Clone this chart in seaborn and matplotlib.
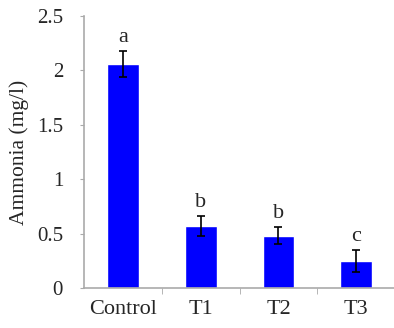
import matplotlib
matplotlib.use("Agg")
import matplotlib.pyplot as plt
import seaborn as sns
import pandas as pd

# --- Data ---
groups = ["Control", "T1", "T2", "T3"]
ammonia = [2.06, 0.57, 0.48, 0.25]
errors = [0.12, 0.09, 0.08, 0.10]
letters = ["a", "b", "b", "c"]

df = pd.DataFrame({"Group": groups, "Ammonia": ammonia})

sns.set_style("white")
plt.rcParams["font.family"] = ["Liberation Serif", "DejaVu Serif"]

fig = plt.figure(figsize=(3.94, 3.28), dpi=100)
ax = fig.add_axes([0.213, 0.122, 0.79, 0.829])

sns.barplot(data=df, x="Group", y="Ammonia", color="#0000ff", saturation=1,
            width=0.41, ax=ax)
ax.errorbar(range(len(groups)), ammonia, yerr=errors, fmt="none",
            ecolor="black", elinewidth=1.2, capsize=3, capthick=1.2)

for i, (v, e, t) in enumerate(zip(ammonia, errors, letters)):
    ax.text(i, v + e + 0.04, t, ha="center", va="bottom", fontsize=16)

ax.set_xlim(-0.5, 3.5)
ax.set_ylim(0, 2.5)
ax.set_yticks([0, 0.5, 1, 1.5, 2, 2.5])
ax.set_yticklabels(["0", "0.5", "1", "1.5", "2", "2.5"])
ax.set_xticks(range(len(groups)))
ax.set_xticklabels(groups)
ax.tick_params(axis="x", length=0, labelsize=16, pad=9)
ax.tick_params(axis="y", length=3, color="#aaaaaa", labelsize=15, left=True, pad=12)
# minor ticks between categories
ax.set_xticks([0.5, 1.5, 2.5], minor=True)
ax.tick_params(axis="x", which="minor", length=4, color="#aaaaaa", bottom=True)

ax.set_xlabel("")
ax.set_ylabel("Ammonia (mg/l)", fontsize=15.5)
ax.yaxis.set_label_coords(-0.178, 0.5)

for side in ["top", "right"]:
    ax.spines[side].set_visible(False)
for side in ["left", "bottom"]:
    ax.spines[side].set_color("#aaaaaa")
    ax.spines[side].set_linestyle((0, (2, 1)))
    ax.spines[side].set_linewidth(1.2)

fig.savefig("out.png", dpi=100)
plt.close()
